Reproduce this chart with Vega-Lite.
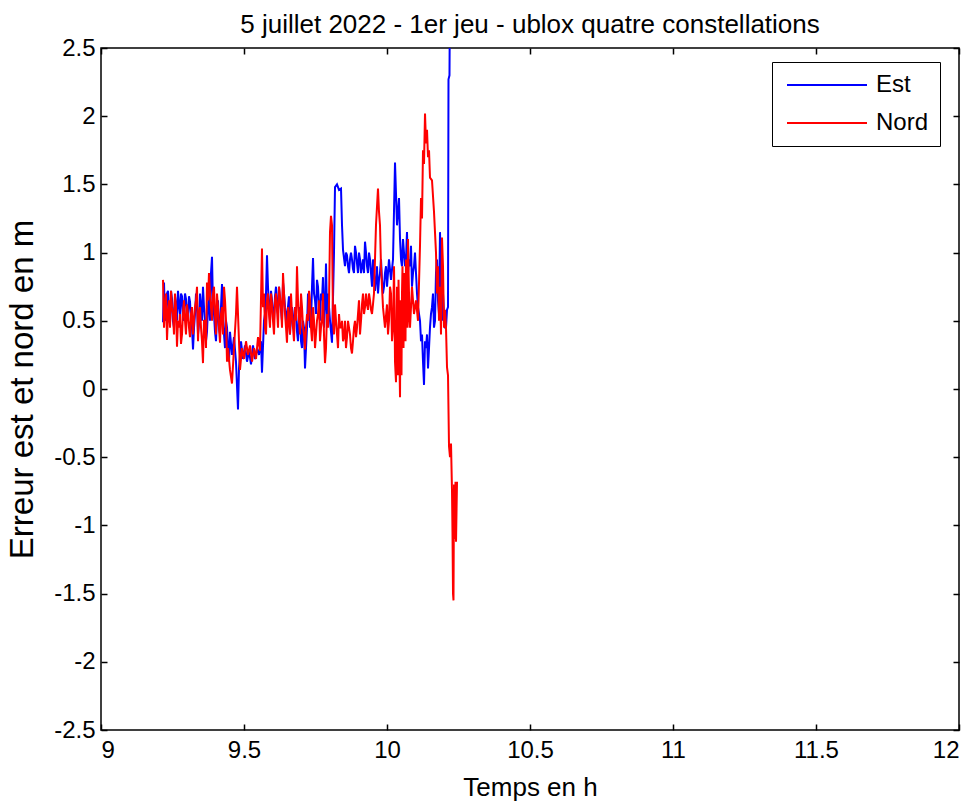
{
  "$schema": "https://vega.github.io/schema/vega-lite/v6.json",
  "autosize": "none",
  "width": 858,
  "height": 682,
  "padding": {"left": 101, "top": 48, "right": 20, "bottom": 77},
  "background": "white",
  "config": {
    "font": "Liberation Sans",
    "view": {"stroke": "black", "strokeWidth": 1.5},
    "axis": {"grid": false, "domain": false, "tickColor": "black", "labelColor": "black", "titleColor": "black", "labelFont": "Liberation Sans", "titleFont": "Liberation Sans", "labelFontSize": 24, "titleFontSize": 26, "titleFontWeight": "normal", "tickSize": -6, "tickWidth": 1.5}
  },
  "title": {"text": "5 juillet 2022 - 1er jeu - ublox quatre constellations", "font": "Liberation Sans", "fontSize": 26, "fontWeight": "normal", "color": "black", "offset": 2, "dy": 60, "anchor": "middle", "frame": "group"},
  "data": {"values": [
    {"t":9.2168,"v":0.49,"s":"Est"},{"t":9.2203,"v":0.78,"s":"Est"},{"t":9.2273,"v":0.55,"s":"Est"},{"t":9.2343,"v":0.72,"s":"Est"},{"t":9.2413,"v":0.48,"s":"Est"},{"t":9.2483,"v":0.66,"s":"Est"},{"t":9.2552,"v":0.45,"s":"Est"},{"t":9.2622,"v":0.62,"s":"Est"},{"t":9.2692,"v":0.72,"s":"Est"},{"t":9.2762,"v":0.55,"s":"Est"},{"t":9.2832,"v":0.68,"s":"Est"},{"t":9.2902,"v":0.58,"s":"Est"},{"t":9.2972,"v":0.66,"s":"Est"},{"t":9.3042,"v":0.55,"s":"Est"},{"t":9.3112,"v":0.64,"s":"Est"},{"t":9.3182,"v":0.45,"s":"Est"},{"t":9.3217,"v":0.29,"s":"Est"},{"t":9.3287,"v":0.55,"s":"Est"},{"t":9.3357,"v":0.62,"s":"Est"},{"t":9.3427,"v":0.48,"s":"Est"},{"t":9.3497,"v":0.6,"s":"Est"},{"t":9.3566,"v":0.75,"s":"Est"},{"t":9.3636,"v":0.5,"s":"Est"},{"t":9.3706,"v":0.42,"s":"Est"},{"t":9.3776,"v":0.7,"s":"Est"},{"t":9.3846,"v":0.85,"s":"Est"},{"t":9.3881,"v":0.97,"s":"Est"},{"t":9.3916,"v":0.6,"s":"Est"},{"t":9.3986,"v":0.42,"s":"Est"},{"t":9.4056,"v":0.55,"s":"Est"},{"t":9.4126,"v":0.45,"s":"Est"},{"t":9.4196,"v":0.6,"s":"Est"},{"t":9.4231,"v":0.77,"s":"Est"},{"t":9.4301,"v":0.4,"s":"Est"},{"t":9.4371,"v":0.5,"s":"Est"},{"t":9.4441,"v":0.3,"s":"Est"},{"t":9.451,"v":0.42,"s":"Est"},{"t":9.458,"v":0.25,"s":"Est"},{"t":9.465,"v":0.38,"s":"Est"},{"t":9.472,"v":0.2,"s":"Est"},{"t":9.479,"v":-0.15,"s":"Est"},{"t":9.4825,"v":0.15,"s":"Est"},{"t":9.4895,"v":0.35,"s":"Est"},{"t":9.4965,"v":0.22,"s":"Est"},{"t":9.5035,"v":0.32,"s":"Est"},{"t":9.5105,"v":0.2,"s":"Est"},{"t":9.5175,"v":0.28,"s":"Est"},{"t":9.5245,"v":0.18,"s":"Est"},{"t":9.5315,"v":0.32,"s":"Est"},{"t":9.5385,"v":0.22,"s":"Est"},{"t":9.5455,"v":0.3,"s":"Est"},{"t":9.5524,"v":0.25,"s":"Est"},{"t":9.5594,"v":0.35,"s":"Est"},{"t":9.5629,"v":0.12,"s":"Est"},{"t":9.5699,"v":0.5,"s":"Est"},{"t":9.5769,"v":0.7,"s":"Est"},{"t":9.5804,"v":0.98,"s":"Est"},{"t":9.5874,"v":0.6,"s":"Est"},{"t":9.5944,"v":0.72,"s":"Est"},{"t":9.6014,"v":0.55,"s":"Est"},{"t":9.6084,"v":0.68,"s":"Est"},{"t":9.6154,"v":0.6,"s":"Est"},{"t":9.6224,"v":0.75,"s":"Est"},{"t":9.6294,"v":0.58,"s":"Est"},{"t":9.6364,"v":0.78,"s":"Est"},{"t":9.6434,"v":0.6,"s":"Est"},{"t":9.6503,"v":0.5,"s":"Est"},{"t":9.6573,"v":0.68,"s":"Est"},{"t":9.6643,"v":0.55,"s":"Est"},{"t":9.6713,"v":0.45,"s":"Est"},{"t":9.6783,"v":0.6,"s":"Est"},{"t":9.6853,"v":0.42,"s":"Est"},{"t":9.6923,"v":0.55,"s":"Est"},{"t":9.6993,"v":0.35,"s":"Est"},{"t":9.7063,"v":0.5,"s":"Est"},{"t":9.7133,"v":0.15,"s":"Est"},{"t":9.7203,"v":0.45,"s":"Est"},{"t":9.7273,"v":0.6,"s":"Est"},{"t":9.7343,"v":0.5,"s":"Est"},{"t":9.7413,"v":0.96,"s":"Est"},{"t":9.7483,"v":0.65,"s":"Est"},{"t":9.7552,"v":0.8,"s":"Est"},{"t":9.7622,"v":0.6,"s":"Est"},{"t":9.7692,"v":0.7,"s":"Est"},{"t":9.7762,"v":0.82,"s":"Est"},{"t":9.7832,"v":0.6,"s":"Est"},{"t":9.7867,"v":0.92,"s":"Est"},{"t":9.7937,"v":0.7,"s":"Est"},{"t":9.8007,"v":0.5,"s":"Est"},{"t":9.8077,"v":0.34,"s":"Est"},{"t":9.8147,"v":1.0,"s":"Est"},{"t":9.8182,"v":1.48,"s":"Est"},{"t":9.8252,"v":1.5,"s":"Est"},{"t":9.8322,"v":1.46,"s":"Est"},{"t":9.8392,"v":1.47,"s":"Est"},{"t":9.8427,"v":1.2,"s":"Est"},{"t":9.8462,"v":1.02,"s":"Est"},{"t":9.8531,"v":0.9,"s":"Est"},{"t":9.8601,"v":0.98,"s":"Est"},{"t":9.8671,"v":0.85,"s":"Est"},{"t":9.8741,"v":1.0,"s":"Est"},{"t":9.8811,"v":0.88,"s":"Est"},{"t":9.8881,"v":1.05,"s":"Est"},{"t":9.8951,"v":0.92,"s":"Est"},{"t":9.9021,"v":1.0,"s":"Est"},{"t":9.9091,"v":0.85,"s":"Est"},{"t":9.9161,"v":0.95,"s":"Est"},{"t":9.9231,"v":1.08,"s":"Est"},{"t":9.9301,"v":0.9,"s":"Est"},{"t":9.9371,"v":1.0,"s":"Est"},{"t":9.9441,"v":0.85,"s":"Est"},{"t":9.951,"v":0.95,"s":"Est"},{"t":9.958,"v":0.72,"s":"Est"},{"t":9.965,"v":0.9,"s":"Est"},{"t":9.972,"v":0.8,"s":"Est"},{"t":9.979,"v":0.95,"s":"Est"},{"t":9.986,"v":0.7,"s":"Est"},{"t":9.993,"v":0.85,"s":"Est"},{"t":10.0,"v":0.75,"s":"Est"},{"t":10.007,"v":0.95,"s":"Est"},{"t":10.014,"v":0.8,"s":"Est"},{"t":10.021,"v":0.95,"s":"Est"},{"t":10.028,"v":1.66,"s":"Est"},{"t":10.035,"v":1.2,"s":"Est"},{"t":10.042,"v":1.4,"s":"Est"},{"t":10.049,"v":0.95,"s":"Est"},{"t":10.0559,"v":1.1,"s":"Est"},{"t":10.0629,"v":0.9,"s":"Est"},{"t":10.0699,"v":1.15,"s":"Est"},{"t":10.0769,"v":0.95,"s":"Est"},{"t":10.0839,"v":1.05,"s":"Est"},{"t":10.0909,"v":0.85,"s":"Est"},{"t":10.0979,"v":1.0,"s":"Est"},{"t":10.1049,"v":0.7,"s":"Est"},{"t":10.1119,"v":0.55,"s":"Est"},{"t":10.1189,"v":0.35,"s":"Est"},{"t":10.1259,"v":0.2,"s":"Est"},{"t":10.1294,"v":0.03,"s":"Est"},{"t":10.1364,"v":0.3,"s":"Est"},{"t":10.1434,"v":0.15,"s":"Est"},{"t":10.1503,"v":0.45,"s":"Est"},{"t":10.1573,"v":0.6,"s":"Est"},{"t":10.1643,"v":0.45,"s":"Est"},{"t":10.1713,"v":0.85,"s":"Est"},{"t":10.1783,"v":0.65,"s":"Est"},{"t":10.1853,"v":1.15,"s":"Est"},{"t":10.1888,"v":0.8,"s":"Est"},{"t":10.1923,"v":0.5,"s":"Est"},{"t":10.1958,"v":0.7,"s":"Est"},{"t":10.2028,"v":0.45,"s":"Est"},{"t":10.2098,"v":0.58,"s":"Est"},{"t":10.2133,"v":0.6,"s":"Est"},{"t":10.215,"v":2.27,"s":"Est"},{"t":10.2185,"v":2.3,"s":"Est"},{"t":10.2203,"v":3.0,"s":"Est"},
    {"t":9.2238,"v":0.5,"s":"Est"},{"t":9.2308,"v":0.7,"s":"Est"},{"t":9.2378,"v":0.5,"s":"Est"},{"t":9.2448,"v":0.72,"s":"Est"},{"t":9.2517,"v":0.5,"s":"Est"},{"t":9.2587,"v":0.68,"s":"Est"},{"t":9.2657,"v":0.5,"s":"Est"},{"t":9.2727,"v":0.62,"s":"Est"},{"t":9.2797,"v":0.7,"s":"Est"},{"t":9.2867,"v":0.5,"s":"Est"},{"t":9.2937,"v":0.7,"s":"Est"},{"t":9.3007,"v":0.5,"s":"Est"},{"t":9.3077,"v":0.68,"s":"Est"},{"t":9.3147,"v":0.5,"s":"Est"},{"t":9.3252,"v":0.45,"s":"Est"},{"t":9.3322,"v":0.7,"s":"Est"},{"t":9.3392,"v":0.4,"s":"Est"},{"t":9.3462,"v":0.7,"s":"Est"},{"t":9.3531,"v":0.5,"s":"Est"},{"t":9.3601,"v":0.6,"s":"Est"},{"t":9.3671,"v":0.35,"s":"Est"},{"t":9.3741,"v":0.6,"s":"Est"},{"t":9.3811,"v":0.5,"s":"Est"},{"t":9.3951,"v":0.55,"s":"Est"},{"t":9.4021,"v":0.35,"s":"Est"},{"t":9.4091,"v":0.65,"s":"Est"},{"t":9.4161,"v":0.4,"s":"Est"},{"t":9.4266,"v":0.55,"s":"Est"},{"t":9.4336,"v":0.3,"s":"Est"},{"t":9.4406,"v":0.45,"s":"Est"},{"t":9.4476,"v":0.2,"s":"Est"},
    {"t":9.5734,"v":0.55,"s":"Est"},{"t":9.5839,"v":0.75,"s":"Est"},{"t":9.5909,"v":0.5,"s":"Est"},{"t":9.5979,"v":0.65,"s":"Est"},{"t":9.6049,"v":0.5,"s":"Est"},{"t":9.6119,"v":0.75,"s":"Est"},{"t":9.6189,"v":0.55,"s":"Est"},{"t":9.6259,"v":0.65,"s":"Est"},{"t":9.6329,"v":0.5,"s":"Est"},{"t":9.6399,"v":0.7,"s":"Est"},{"t":9.6469,"v":0.55,"s":"Est"},{"t":9.6538,"v":0.6,"s":"Est"},{"t":9.6608,"v":0.4,"s":"Est"},{"t":9.6678,"v":0.6,"s":"Est"},{"t":9.6748,"v":0.5,"s":"Est"},{"t":9.6818,"v":0.55,"s":"Est"},{"t":9.6888,"v":0.35,"s":"Est"},{"t":9.6958,"v":0.6,"s":"Est"},{"t":9.7028,"v":0.3,"s":"Est"},{"t":9.7098,"v":0.45,"s":"Est"},{"t":9.7168,"v":0.3,"s":"Est"},{"t":9.7238,"v":0.7,"s":"Est"},{"t":9.7308,"v":0.45,"s":"Est"},{"t":9.7378,"v":0.75,"s":"Est"},{"t":9.7448,"v":0.7,"s":"Est"},{"t":9.7517,"v":0.55,"s":"Est"},{"t":9.7587,"v":0.75,"s":"Est"},{"t":9.7657,"v":0.5,"s":"Est"},{"t":9.7727,"v":0.65,"s":"Est"},{"t":9.7797,"v":0.45,"s":"Est"},{"t":9.7902,"v":0.55,"s":"Est"},{"t":9.7972,"v":0.6,"s":"Est"},
    {"t":9.8566,"v":1.0,"s":"Est"},{"t":9.8636,"v":0.9,"s":"Est"},{"t":9.8706,"v":0.95,"s":"Est"},{"t":9.8776,"v":0.95,"s":"Est"},{"t":9.8846,"v":0.85,"s":"Est"},{"t":9.8916,"v":1.0,"s":"Est"},{"t":9.8986,"v":0.85,"s":"Est"},{"t":9.9056,"v":0.95,"s":"Est"},{"t":9.9126,"v":0.9,"s":"Est"},{"t":9.9196,"v":0.85,"s":"Est"},{"t":9.9266,"v":1.0,"s":"Est"},{"t":9.9336,"v":0.85,"s":"Est"},{"t":9.9406,"v":0.95,"s":"Est"},{"t":9.9476,"v":0.75,"s":"Est"},{"t":9.9545,"v":0.85,"s":"Est"},{"t":9.9615,"v":0.8,"s":"Est"},{"t":9.9685,"v":0.7,"s":"Est"},{"t":9.9755,"v":0.85,"s":"Est"},{"t":9.9825,"v":0.8,"s":"Est"},{"t":9.9895,"v":0.75,"s":"Est"},{"t":9.9965,"v":0.9,"s":"Est"},
    {"t":10.0455,"v":1.1,"s":"Est"},{"t":10.0524,"v":0.9,"s":"Est"},{"t":10.0594,"v":1.0,"s":"Est"},{"t":10.0664,"v":0.95,"s":"Est"},{"t":10.0734,"v":0.85,"s":"Est"},{"t":10.0804,"v":0.9,"s":"Est"},{"t":10.0874,"v":0.75,"s":"Est"},{"t":10.0944,"v":0.9,"s":"Est"},{"t":10.1014,"v":0.85,"s":"Est"},{"t":10.1084,"v":0.6,"s":"Est"},{"t":10.1154,"v":0.5,"s":"Est"},{"t":10.1224,"v":0.4,"s":"Est"},{"t":10.1329,"v":0.35,"s":"Est"},{"t":10.1399,"v":0.4,"s":"Est"},{"t":10.1469,"v":0.3,"s":"Est"},{"t":10.1538,"v":0.55,"s":"Est"},{"t":10.1608,"v":0.7,"s":"Est"},{"t":10.1678,"v":0.5,"s":"Est"},{"t":10.1748,"v":0.95,"s":"Est"},{"t":10.1818,"v":0.55,"s":"Est"},{"t":10.1993,"v":0.55,"s":"Est"},{"t":10.2063,"v":0.45,"s":"Est"},

    {"t":9.2168,"v":0.8,"s":"Nord"},{"t":9.2238,"v":0.6,"s":"Nord"},{"t":9.2308,"v":0.36,"s":"Nord"},{"t":9.2378,"v":0.65,"s":"Nord"},{"t":9.2448,"v":0.72,"s":"Nord"},{"t":9.2517,"v":0.55,"s":"Nord"},{"t":9.2587,"v":0.7,"s":"Nord"},{"t":9.2657,"v":0.31,"s":"Nord"},{"t":9.2727,"v":0.45,"s":"Nord"},{"t":9.2797,"v":0.33,"s":"Nord"},{"t":9.2867,"v":0.56,"s":"Nord"},{"t":9.2937,"v":0.5,"s":"Nord"},{"t":9.3007,"v":0.62,"s":"Nord"},{"t":9.3077,"v":0.45,"s":"Nord"},{"t":9.3112,"v":0.38,"s":"Nord"},{"t":9.3182,"v":0.6,"s":"Nord"},{"t":9.3252,"v":0.5,"s":"Nord"},{"t":9.3322,"v":0.65,"s":"Nord"},{"t":9.3357,"v":0.75,"s":"Nord"},{"t":9.3427,"v":0.55,"s":"Nord"},{"t":9.3497,"v":0.45,"s":"Nord"},{"t":9.3566,"v":0.19,"s":"Nord"},{"t":9.3636,"v":0.5,"s":"Nord"},{"t":9.3706,"v":0.78,"s":"Nord"},{"t":9.3776,"v":0.85,"s":"Nord"},{"t":9.3846,"v":0.6,"s":"Nord"},{"t":9.3916,"v":0.7,"s":"Nord"},{"t":9.3986,"v":0.55,"s":"Nord"},{"t":9.4056,"v":0.7,"s":"Nord"},{"t":9.4126,"v":0.45,"s":"Nord"},{"t":9.4161,"v":0.34,"s":"Nord"},{"t":9.4231,"v":0.6,"s":"Nord"},{"t":9.4301,"v":0.75,"s":"Nord"},{"t":9.4371,"v":0.5,"s":"Nord"},{"t":9.4441,"v":0.3,"s":"Nord"},{"t":9.451,"v":0.14,"s":"Nord"},{"t":9.458,"v":0.04,"s":"Nord"},{"t":9.465,"v":0.3,"s":"Nord"},{"t":9.472,"v":0.55,"s":"Nord"},{"t":9.4755,"v":0.75,"s":"Nord"},{"t":9.4825,"v":0.35,"s":"Nord"},{"t":9.486,"v":0.14,"s":"Nord"},{"t":9.493,"v":0.3,"s":"Nord"},{"t":9.5,"v":0.22,"s":"Nord"},{"t":9.507,"v":0.35,"s":"Nord"},{"t":9.514,"v":0.25,"s":"Nord"},{"t":9.521,"v":0.32,"s":"Nord"},{"t":9.528,"v":0.2,"s":"Nord"},{"t":9.535,"v":0.3,"s":"Nord"},{"t":9.542,"v":0.22,"s":"Nord"},{"t":9.549,"v":0.38,"s":"Nord"},{"t":9.5559,"v":0.28,"s":"Nord"},{"t":9.5629,"v":1.03,"s":"Nord"},{"t":9.5664,"v":0.6,"s":"Nord"},{"t":9.5734,"v":0.45,"s":"Nord"},{"t":9.5804,"v":0.65,"s":"Nord"},{"t":9.5874,"v":0.55,"s":"Nord"},{"t":9.5944,"v":0.7,"s":"Nord"},{"t":9.6014,"v":0.5,"s":"Nord"},{"t":9.6084,"v":0.65,"s":"Nord"},{"t":9.6154,"v":0.58,"s":"Nord"},{"t":9.6224,"v":0.75,"s":"Nord"},{"t":9.6294,"v":0.6,"s":"Nord"},{"t":9.6364,"v":0.85,"s":"Nord"},{"t":9.6434,"v":0.55,"s":"Nord"},{"t":9.6503,"v":0.34,"s":"Nord"},{"t":9.6573,"v":0.5,"s":"Nord"},{"t":9.6643,"v":0.7,"s":"Nord"},{"t":9.6713,"v":0.45,"s":"Nord"},{"t":9.6783,"v":0.6,"s":"Nord"},{"t":9.6853,"v":0.9,"s":"Nord"},{"t":9.6923,"v":0.5,"s":"Nord"},{"t":9.6993,"v":0.7,"s":"Nord"},{"t":9.7063,"v":0.45,"s":"Nord"},{"t":9.7133,"v":0.29,"s":"Nord"},{"t":9.7203,"v":0.55,"s":"Nord"},{"t":9.7273,"v":0.72,"s":"Nord"},{"t":9.7343,"v":0.45,"s":"Nord"},{"t":9.7413,"v":0.6,"s":"Nord"},{"t":9.7483,"v":0.3,"s":"Nord"},{"t":9.7552,"v":0.5,"s":"Nord"},{"t":9.7622,"v":0.65,"s":"Nord"},{"t":9.7692,"v":0.45,"s":"Nord"},{"t":9.7762,"v":0.7,"s":"Nord"},{"t":9.7832,"v":0.19,"s":"Nord"},{"t":9.7902,"v":0.55,"s":"Nord"},{"t":9.7972,"v":0.63,"s":"Nord"},{"t":9.8007,"v":1.15,"s":"Nord"},{"t":9.8042,"v":1.27,"s":"Nord"},{"t":9.8077,"v":1.2,"s":"Nord"},{"t":9.8112,"v":0.5,"s":"Nord"},{"t":9.8182,"v":0.62,"s":"Nord"},{"t":9.8252,"v":0.4,"s":"Nord"},{"t":9.8322,"v":0.55,"s":"Nord"},{"t":9.8392,"v":0.45,"s":"Nord"},{"t":9.8462,"v":0.35,"s":"Nord"},{"t":9.8531,"v":0.5,"s":"Nord"},{"t":9.8601,"v":0.38,"s":"Nord"},{"t":9.8671,"v":0.45,"s":"Nord"},{"t":9.8741,"v":0.3,"s":"Nord"},{"t":9.8776,"v":0.26,"s":"Nord"},{"t":9.8846,"v":0.45,"s":"Nord"},{"t":9.8916,"v":0.38,"s":"Nord"},{"t":9.8986,"v":0.55,"s":"Nord"},{"t":9.9056,"v":0.4,"s":"Nord"},{"t":9.9126,"v":0.62,"s":"Nord"},{"t":9.9196,"v":0.55,"s":"Nord"},{"t":9.9266,"v":0.7,"s":"Nord"},{"t":9.9336,"v":0.58,"s":"Nord"},{"t":9.9406,"v":0.65,"s":"Nord"},{"t":9.9476,"v":0.55,"s":"Nord"},{"t":9.9545,"v":0.7,"s":"Nord"},{"t":9.9615,"v":1.2,"s":"Nord"},{"t":9.9685,"v":1.47,"s":"Nord"},{"t":9.972,"v":1.3,"s":"Nord"},{"t":9.9755,"v":1.2,"s":"Nord"},{"t":9.979,"v":0.9,"s":"Nord"},{"t":9.986,"v":0.6,"s":"Nord"},{"t":9.993,"v":0.45,"s":"Nord"},{"t":10.0,"v":0.62,"s":"Nord"},{"t":10.007,"v":0.5,"s":"Nord"},{"t":10.014,"v":0.7,"s":"Nord"},{"t":10.021,"v":0.45,"s":"Nord"},{"t":10.0245,"v":0.9,"s":"Nord"},{"t":10.028,"v":0.2,"s":"Nord"},{"t":10.035,"v":0.75,"s":"Nord"},{"t":10.0385,"v":0.1,"s":"Nord"},{"t":10.042,"v":0.55,"s":"Nord"},{"t":10.0455,"v":-0.06,"s":"Nord"},{"t":10.049,"v":0.35,"s":"Nord"},{"t":10.0524,"v":0.7,"s":"Nord"},{"t":10.0559,"v":0.4,"s":"Nord"},{"t":10.0594,"v":0.85,"s":"Nord"},{"t":10.0629,"v":0.5,"s":"Nord"},{"t":10.0664,"v":0.95,"s":"Nord"},{"t":10.0699,"v":0.6,"s":"Nord"},{"t":10.0734,"v":1.1,"s":"Nord"},{"t":10.0769,"v":0.7,"s":"Nord"},{"t":10.0804,"v":0.45,"s":"Nord"},{"t":10.0874,"v":0.75,"s":"Nord"},{"t":10.0944,"v":0.55,"s":"Nord"},{"t":10.1014,"v":0.65,"s":"Nord"},{"t":10.1084,"v":0.5,"s":"Nord"},{"t":10.1154,"v":1.05,"s":"Nord"},{"t":10.1189,"v":1.4,"s":"Nord"},{"t":10.1224,"v":1.25,"s":"Nord"},{"t":10.1259,"v":1.75,"s":"Nord"},{"t":10.1294,"v":1.65,"s":"Nord"},{"t":10.1329,"v":2.02,"s":"Nord"},{"t":10.1364,"v":1.8,"s":"Nord"},{"t":10.1399,"v":1.9,"s":"Nord"},{"t":10.1434,"v":1.7,"s":"Nord"},{"t":10.1469,"v":1.75,"s":"Nord"},{"t":10.1503,"v":1.55,"s":"Nord"},{"t":10.1573,"v":1.53,"s":"Nord"},{"t":10.1643,"v":1.3,"s":"Nord"},{"t":10.1713,"v":1.0,"s":"Nord"},{"t":10.1748,"v":0.7,"s":"Nord"},{"t":10.1783,"v":0.9,"s":"Nord"},{"t":10.1818,"v":0.5,"s":"Nord"},{"t":10.1853,"v":0.75,"s":"Nord"},{"t":10.1888,"v":0.4,"s":"Nord"},{"t":10.1923,"v":1.11,"s":"Nord"},{"t":10.1958,"v":0.9,"s":"Nord"},{"t":10.1993,"v":0.45,"s":"Nord"},{"t":10.2028,"v":0.58,"s":"Nord"},{"t":10.2063,"v":0.45,"s":"Nord"},{"t":10.2098,"v":0.16,"s":"Nord"},{"t":10.2133,"v":0.1,"s":"Nord"},{"t":10.2168,"v":-0.42,"s":"Nord"},{"t":10.2203,"v":-0.5,"s":"Nord"},{"t":10.2238,"v":-0.4,"s":"Nord"},{"t":10.2273,"v":-0.75,"s":"Nord"},{"t":10.229,"v":-1.05,"s":"Nord"},{"t":10.2308,"v":-1.5,"s":"Nord"},{"t":10.2325,"v":-1.55,"s":"Nord"},{"t":10.2343,"v":-0.7,"s":"Nord"},{"t":10.2378,"v":-1.1,"s":"Nord"},{"t":10.2395,"v":-0.68,"s":"Nord"},{"t":10.2413,"v":-1.12,"s":"Nord"},{"t":10.2448,"v":-0.68,"s":"Nord"},
    {"t":9.2203,"v":0.45,"s":"Nord"},{"t":9.2273,"v":0.7,"s":"Nord"},{"t":9.2343,"v":0.55,"s":"Nord"},{"t":9.2413,"v":0.45,"s":"Nord"},{"t":9.2483,"v":0.6,"s":"Nord"},{"t":9.2552,"v":0.4,"s":"Nord"},{"t":9.2622,"v":0.6,"s":"Nord"},{"t":9.2692,"v":0.5,"s":"Nord"},{"t":9.2762,"v":0.55,"s":"Nord"},{"t":9.2832,"v":0.4,"s":"Nord"},{"t":9.2902,"v":0.65,"s":"Nord"},{"t":9.2972,"v":0.4,"s":"Nord"},{"t":9.3042,"v":0.55,"s":"Nord"},{"t":9.3147,"v":0.55,"s":"Nord"},{"t":9.3217,"v":0.4,"s":"Nord"},{"t":9.3287,"v":0.6,"s":"Nord"},{"t":9.3392,"v":0.35,"s":"Nord"},{"t":9.3462,"v":0.6,"s":"Nord"},{"t":9.3531,"v":0.35,"s":"Nord"},{"t":9.3601,"v":0.5,"s":"Nord"},{"t":9.3671,"v":0.3,"s":"Nord"},{"t":9.3741,"v":0.65,"s":"Nord"},{"t":9.3811,"v":0.7,"s":"Nord"},{"t":9.3881,"v":0.5,"s":"Nord"},{"t":9.3951,"v":0.75,"s":"Nord"},{"t":9.4021,"v":0.4,"s":"Nord"},{"t":9.4091,"v":0.6,"s":"Nord"},{"t":9.4196,"v":0.55,"s":"Nord"},{"t":9.4266,"v":0.4,"s":"Nord"},{"t":9.4336,"v":0.65,"s":"Nord"},{"t":9.4406,"v":0.2,"s":"Nord"},
    {"t":9.5699,"v":0.7,"s":"Nord"},{"t":9.5769,"v":0.4,"s":"Nord"},{"t":9.5839,"v":0.7,"s":"Nord"},{"t":9.5909,"v":0.45,"s":"Nord"},{"t":9.5979,"v":0.62,"s":"Nord"},{"t":9.6049,"v":0.4,"s":"Nord"},{"t":9.6119,"v":0.7,"s":"Nord"},{"t":9.6189,"v":0.45,"s":"Nord"},{"t":9.6259,"v":0.68,"s":"Nord"},{"t":9.6329,"v":0.45,"s":"Nord"},{"t":9.6399,"v":0.7,"s":"Nord"},{"t":9.6469,"v":0.45,"s":"Nord"},{"t":9.6538,"v":0.6,"s":"Nord"},{"t":9.6608,"v":0.4,"s":"Nord"},{"t":9.6678,"v":0.55,"s":"Nord"},{"t":9.6748,"v":0.35,"s":"Nord"},{"t":9.6818,"v":0.5,"s":"Nord"},{"t":9.6888,"v":0.65,"s":"Nord"},{"t":9.6958,"v":0.4,"s":"Nord"},{"t":9.7028,"v":0.6,"s":"Nord"},{"t":9.7098,"v":0.4,"s":"Nord"},{"t":9.7168,"v":0.45,"s":"Nord"},{"t":9.7238,"v":0.5,"s":"Nord"},{"t":9.7308,"v":0.65,"s":"Nord"},{"t":9.7378,"v":0.35,"s":"Nord"},{"t":9.7448,"v":0.5,"s":"Nord"},{"t":9.7517,"v":0.4,"s":"Nord"},{"t":9.7587,"v":0.55,"s":"Nord"},{"t":9.7657,"v":0.35,"s":"Nord"},{"t":9.7727,"v":0.5,"s":"Nord"},{"t":9.7797,"v":0.4,"s":"Nord"},{"t":9.7867,"v":0.3,"s":"Nord"},{"t":9.7937,"v":0.45,"s":"Nord"},
    {"t":9.8147,"v":0.4,"s":"Nord"},{"t":9.8217,"v":0.5,"s":"Nord"},{"t":9.8287,"v":0.3,"s":"Nord"},{"t":9.8357,"v":0.45,"s":"Nord"},{"t":9.8427,"v":0.5,"s":"Nord"},{"t":9.8497,"v":0.38,"s":"Nord"},{"t":9.8566,"v":0.3,"s":"Nord"},{"t":9.8636,"v":0.5,"s":"Nord"},{"t":9.8706,"v":0.4,"s":"Nord"},{"t":9.8811,"v":0.35,"s":"Nord"},{"t":9.8881,"v":0.5,"s":"Nord"},{"t":9.8951,"v":0.45,"s":"Nord"},{"t":9.9021,"v":0.65,"s":"Nord"},{"t":9.9091,"v":0.5,"s":"Nord"},{"t":9.9161,"v":0.7,"s":"Nord"},{"t":9.9231,"v":0.6,"s":"Nord"},{"t":9.9301,"v":0.62,"s":"Nord"},{"t":9.9371,"v":0.7,"s":"Nord"},{"t":9.9441,"v":0.58,"s":"Nord"},{"t":9.951,"v":0.62,"s":"Nord"},
    {"t":10.0035,"v":0.4,"s":"Nord"},{"t":10.0105,"v":0.75,"s":"Nord"},{"t":10.0175,"v":0.35,"s":"Nord"},{"t":10.0263,"v":0.6,"s":"Nord"},{"t":10.0315,"v":0.05,"s":"Nord"},{"t":10.0403,"v":0.8,"s":"Nord"},{"t":10.0437,"v":0.2,"s":"Nord"},{"t":10.0472,"v":0.65,"s":"Nord"},{"t":10.0507,"v":0.1,"s":"Nord"},{"t":10.0542,"v":0.9,"s":"Nord"},{"t":10.0577,"v":0.3,"s":"Nord"},{"t":10.0612,"v":0.75,"s":"Nord"},{"t":10.0647,"v":0.35,"s":"Nord"},{"t":10.0682,"v":0.85,"s":"Nord"},{"t":10.0716,"v":0.45,"s":"Nord"},{"t":10.0751,"v":0.9,"s":"Nord"},{"t":10.0786,"v":0.5,"s":"Nord"}
  ]},
  "layer": [
    {
      "mark": {"type": "line", "strokeWidth": 2, "clip": true},
      "encoding": {
        "x": {"field": "t", "type": "quantitative", "scale": {"domain": [9, 12], "nice": false, "zero": false},
              "axis": {"orient": "bottom", "values": [9, 9.5, 10, 10.5, 11, 11.5, 12], "labelExpr": "toString(datum.value)", "labelPadding": 14, "title": "Temps en h", "titlePadding": 12}},
        "y": {"field": "v", "type": "quantitative", "scale": {"domain": [-2.5, 2.5], "nice": false, "zero": false},
              "axis": {"orient": "left", "values": [-2.5, -2, -1.5, -1, -0.5, 0, 0.5, 1, 1.5, 2, 2.5], "labelExpr": "toString(datum.value)", "labelPadding": 12, "title": "Erreur est et nord en m", "titleFontSize": 33, "titlePadding": 14}},
        "color": {"field": "s", "type": "nominal", "scale": {"domain": ["Est", "Nord"], "range": ["#0000FF", "#FF0000"]},
                  "legend": {"title": null, "orient": "none", "legendX": 671, "legendY": 14, "symbolType": "M -4 0 L 4 0", "symbolSize": 400, "symbolStrokeWidth": 2, "labelFontSize": 24, "labelFont": "Liberation Sans", "labelColor": "black", "strokeColor": "black", "fillColor": "white", "padding": 11, "rowPadding": 14, "labelOffset": 37, "symbolOffset": 32}}
      }
    },
    {
      "mark": {"type": "line", "strokeOpacity": 0},
      "encoding": {
        "x": {"field": "t", "type": "quantitative", "axis": {"orient": "top", "values": [9, 9.5, 10, 10.5, 11, 11.5, 12], "labels": false, "title": null}},
        "y": {"field": "v", "type": "quantitative", "axis": {"orient": "right", "values": [-2.5, -2, -1.5, -1, -0.5, 0, 0.5, 1, 1.5, 2, 2.5], "labels": false, "title": null}}
      }
    }
  ],
  "resolve": {"axis": {"x": "independent", "y": "independent"}}
}
